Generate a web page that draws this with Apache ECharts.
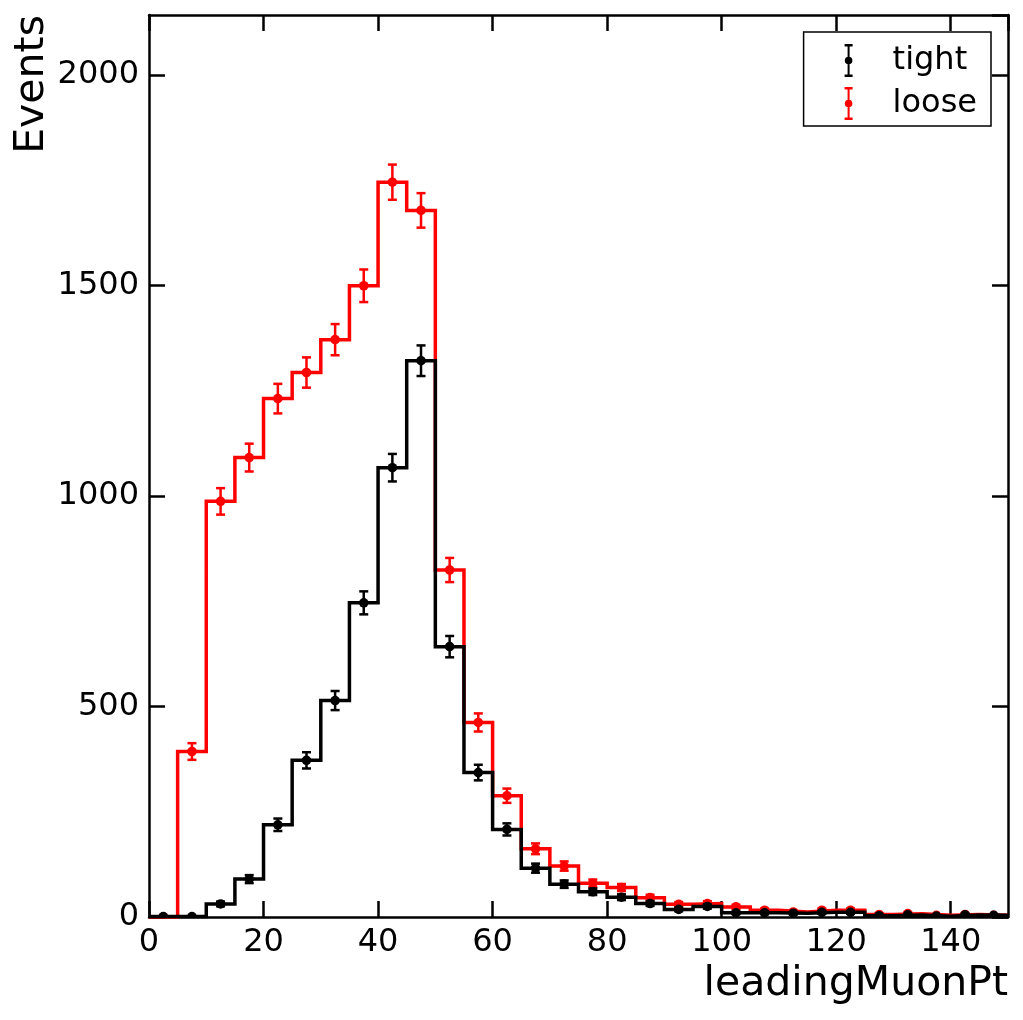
<!DOCTYPE html>
<html>
<head>
<meta charset="utf-8">
<script src="https://cdn.jsdelivr.net/npm/echarts@6/dist/echarts.min.js"></script>
<style>
html,body{margin:0;padding:0;background:#fff;}
#chart{width:1023px;height:1020px;}
</style>
</head>
<body>
<div id="chart"></div>
<script>
// Bin edges (leadingMuonPt), 5 GeV bins from 0 to 150
const binEdges = [0,5,10,15,20,25,30,35,40,45,50,55,60,65,70,75,80,85,90,95,100,105,110,115,120,125,130,135,140,145,150];
// Events per bin
const tightValues = [1,1,31,90,219,372,514,746,1067,1321,642,343,208,116,78,60,47,32,18,25,10,10,9,11,11,3,5,2,5,4];
const looseValues = [0,393,987,1091,1231,1293,1371,1499,1745,1678,824,462,288,162,121,80,70,46,30,32,24,16,12,16,16,6,8,4,6,4];
const seriesNames = ['tight','loose'];
const seriesColors = ['#000000','#ff0000'];
const xTickLabels = ['0','20','40','60','80','100','120','140'];
const yTickLabels = ['0','500','1000','1500','2000'];

const FONT = 'DejaVu Sans';

function stepData(vals){
  const out = [];
  for (let i = 0; i < binEdges.length; i++) {
    out.push([binEdges[i], vals[Math.min(i, vals.length-1)]]);
  }
  return out;
}
function errData(vals){
  return vals.map((v,i)=>[(binEdges[i]+binEdges[i+1])/2, v, Math.sqrt(v)]);
}
function makeErrRender(color){
  return function(params, api){
    const x = api.value(0), y = api.value(1), e = api.value(2);
    const p = api.coord([x, y]);
    const hi = api.coord([x, y + e]);
    const lo = api.coord([x, y - e]);
    const cap = 4.5;
    const st = {stroke: color, lineWidth: 2.5};
    return {type:'group', children:[
      {type:'line', shape:{x1:p[0], y1:hi[1], x2:p[0], y2:lo[1]}, style:st},
      {type:'line', shape:{x1:p[0]-cap, y1:hi[1], x2:p[0]+cap, y2:hi[1]}, style:st},
      {type:'line', shape:{x1:p[0]-cap, y1:lo[1], x2:p[0]+cap, y2:lo[1]}, style:st},
      {type:'circle', shape:{cx:p[0], cy:p[1], r:4.8}, style:{fill:color}}
    ]};
  };
}

const ICON = 'path://M1,0H9V2.4H6V30.6H9V33H1V30.6H4V2.4H1Z M8.8,16.5A3.8,3.8 0 1,1 1.2,16.5A3.8,3.8 0 1,1 8.8,16.5Z';

const axisLineStyle = {show:true, onZero:false, lineStyle:{color:'#000', width:2.5}};
const tickStyle = {show:true, inside:true, length:16, lineStyle:{color:'#000', width:2.5}};

function xFmt(v){ const s = String(v); return xTickLabels.indexOf(s) >= 0 ? s : ''; }
function yFmt(v){ const s = String(v); return yTickLabels.indexOf(s) >= 0 ? s : ''; }

const series = [];
// error bars + markers (listed first so legend picks their style)
seriesNames.forEach((name, k) => {
  const vals = k === 0 ? tightValues : looseValues;
  series.push({
    name: name, type:'custom', renderItem: makeErrRender(seriesColors[k]),
    data: errData(vals), itemStyle:{color:seriesColors[k]},
    encode:{x:0, y:1}, clip:true, z: k === 0 ? 6 : 4, silent:true
  });
});
seriesNames.forEach((name, k) => {
  const vals = k === 0 ? tightValues : looseValues;
  series.push({
    name: name, type:'line', step:'end', data: stepData(vals),
    symbol:'none', showSymbol:false, color: seriesColors[k],
    lineStyle:{color:seriesColors[k], width:3.5, join:'miter'},
    z: k === 0 ? 5 : 3, silent:true, clip:true
  });
});

const chart = echarts.init(document.getElementById('chart'), null, {renderer:'canvas'});
chart.setOption({
  animation:false,
  backgroundColor:'#fff',
  textStyle:{fontFamily:FONT},
  grid:{left:149, right:15, top:15, bottom:103, containLabel:false},
  legend:{
    data: seriesNames.map(n=>({name:n, icon:ICON})),
    orient:'vertical', right:32, top:32,
    itemWidth:10, itemHeight:33, itemGap:10,
    padding:[12,14,6,41],
    borderColor:'#000', borderWidth:1.5, borderRadius:0,
    backgroundColor:'#fff',
    selectedMode:false,
    textStyle:{fontSize:32, color:'#000', fontFamily:FONT, padding:[4,0,0,34]}
  },
  xAxis:[
    {type:'value', position:'bottom', min:0, max:150, interval:20,
     axisLine:axisLineStyle, axisTick:tickStyle, splitLine:{show:false},
     axisLabel:{fontSize:32, color:'#000', fontFamily:FONT, margin:10, showMaxLabel:false, formatter:xFmt},
     name:'leadingMuonPt', nameLocation:'end', nameGap:0,
     nameTextStyle:{fontSize:41, color:'#000', fontFamily:FONT, align:'right', verticalAlign:'top', padding:[47,0,0,0]}},
    {type:'value', position:'top', min:0, max:150, interval:20,
     axisLine:axisLineStyle, axisTick:tickStyle, splitLine:{show:false}, axisLabel:{show:false}}
  ],
  yAxis:[
    {type:'value', position:'left', min:0, max:2142, interval:500,
     axisLine:axisLineStyle, axisTick:tickStyle, splitLine:{show:false},
     axisLabel:{fontSize:32, color:'#000', fontFamily:FONT, margin:10, showMaxLabel:false, formatter:yFmt},
     name:'Events', nameLocation:'end', nameGap:0, nameRotate:90,
     nameTextStyle:{fontSize:41, color:'#000', fontFamily:FONT, align:'right', verticalAlign:'bottom', padding:[0,0,96,0]}},
    {type:'value', position:'right', min:0, max:2142, interval:500,
     axisLine:axisLineStyle, axisTick:tickStyle, splitLine:{show:false}, axisLabel:{show:false}}
  ],
  series: series
});
</script>
</body>
</html>
